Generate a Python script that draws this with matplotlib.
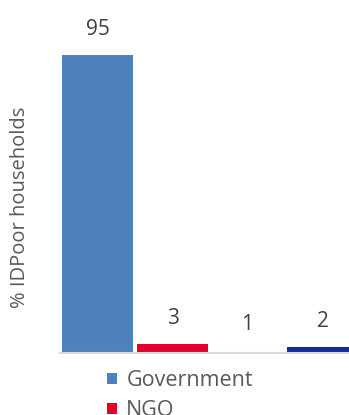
import matplotlib
matplotlib.use("Agg")
import matplotlib.pyplot as plt
from matplotlib.patches import Patch

# Who identified the household
categories = ["Government", "NGO", "Other", "Unknown"]
values = [95, 3, 1, 2]
colors = ["#4F81BD", "#E4002B", "#FFFFFF", "#0A2F9F"]
legend_shown = 2  # only the first entries fit on the canvas

plt.rcParams["font.family"] = ["Open Sans", "DejaVu Sans"]

W, H = 349, 415
fig = plt.figure(figsize=(W / 100, H / 100), dpi=100)
# axes run slightly past the right edge, as in the original layout
ax = fig.add_axes([60 / W, (H - 353) / H, 300 / W, 314 / H])

x = range(len(categories))
bars = ax.bar(x, values, width=0.947, color=colors, zorder=2)
ax.set_xlim(-0.5, 3.5)
ax.set_ylim(0, 100)

for b, v in zip(bars, values):
    ax.annotate(f"{v}", (b.get_x() + b.get_width() / 2, b.get_height()),
                xytext=(0, 18), textcoords="offset points",
                ha="center", va="center", fontsize=15, color="#404040")

for s in ["top", "right", "left"]:
    ax.spines[s].set_visible(False)
ax.spines["bottom"].set_color("#D9D9D9")
ax.spines["bottom"].set_linewidth(1.5)
ax.set_xticks([])
ax.set_yticks([])

fig.text(20 / W, 1 - 207 / H, "% IDPoor households", rotation=90,
         ha="center", va="center", fontsize=14.5, color="#595959")

handles = [Patch(facecolor=c, edgecolor="none") for c in colors[:legend_shown]]
fig.legend(handles, categories[:legend_shown], loc="upper left",
           bbox_to_anchor=(107 / W, 1 - 370 / H), frameon=False,
           fontsize=15.5, labelcolor="#595959", handlelength=0.45,
           handleheight=0.45, handletextpad=0.45, labelspacing=0.42,
           borderpad=0, borderaxespad=0)

fig.savefig("out.png", dpi=100)
